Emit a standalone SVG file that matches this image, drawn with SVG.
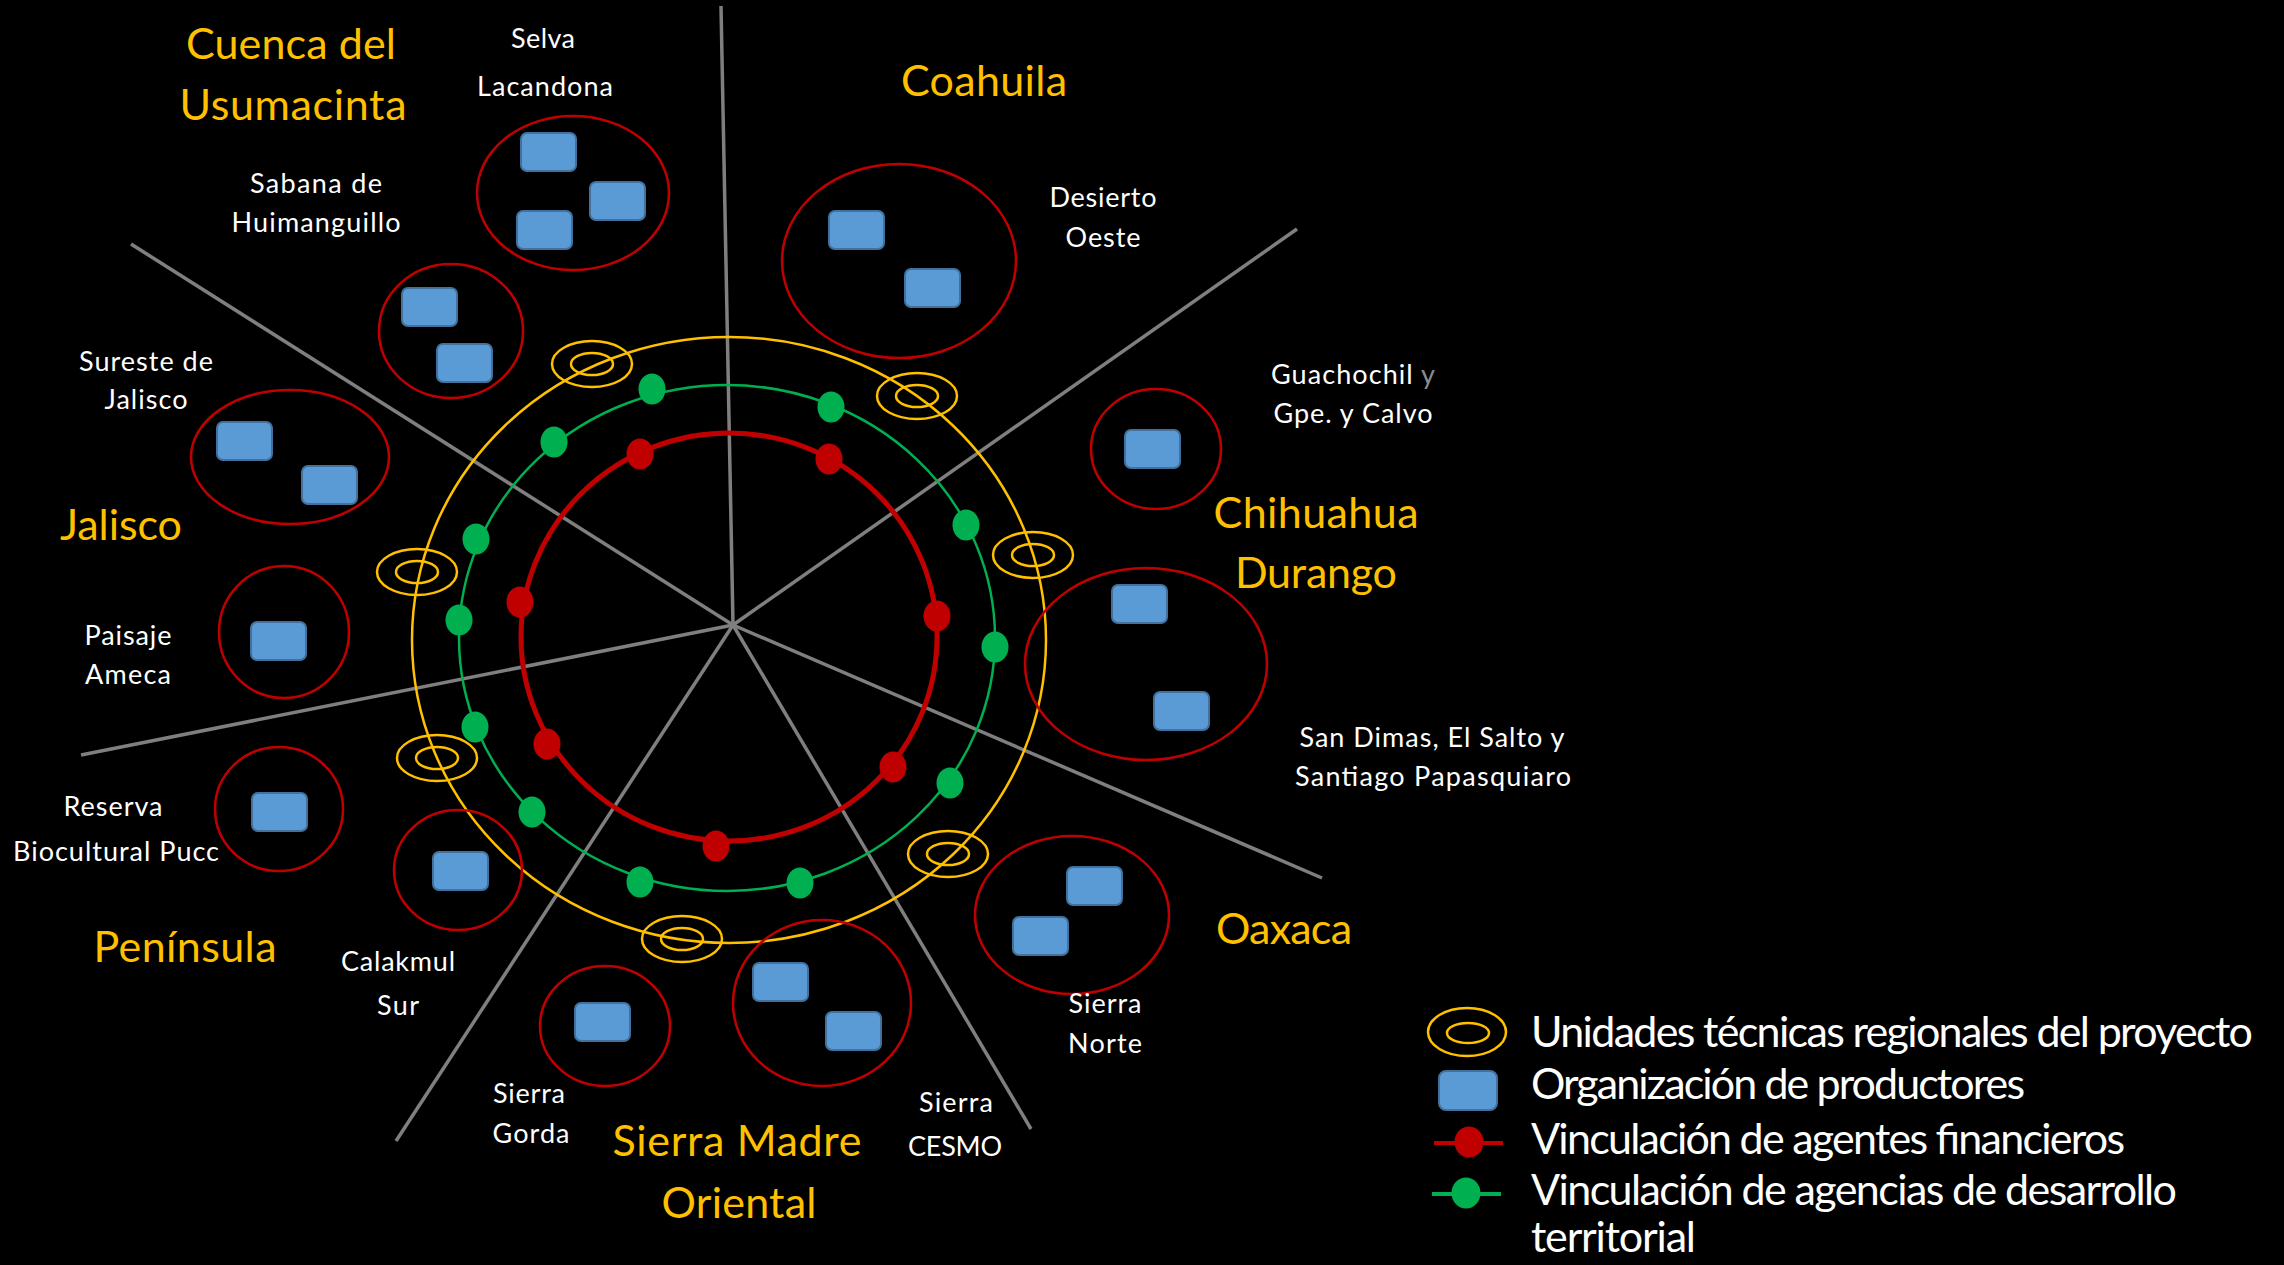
<svg xmlns="http://www.w3.org/2000/svg" width="2284" height="1265" viewBox="0 0 2284 1265">
<style>
.bg{fill:#000}
.spoke{stroke:#7F7F7F;stroke-width:3.5;fill:none;stroke-linecap:butt}
.ringY{fill:none;stroke:#FFC000;stroke-width:2.5}
.ringG{fill:none;stroke:#00B050;stroke-width:2.5}
.ringR{fill:none;stroke:#C00000;stroke-width:5}
.dotR{fill:#C00000}
.dotG{fill:#00B050}
.utr{fill:none;stroke:#FFC000;stroke-width:2.5}
.clus{fill:none;stroke:#C00000;stroke-width:2.5}
.org{fill:#5B9BD5;stroke:#41719C;stroke-width:2}
.region{font-family:Lato,"Open Sans",sans-serif;font-size:43px;fill:#FFC000;text-anchor:middle}
.site{font-family:Lato,"Open Sans",sans-serif;font-size:27px;fill:#FFFFFF;text-anchor:middle}
.leg{font-family:Lato,"Open Sans",sans-serif;font-size:43px;fill:#FFFFFF}
.grey{fill:#8C8C8C}
</style>
<defs>
<g id="target"><ellipse class="utr" cx="0" cy="0" rx="40" ry="23"/><ellipse class="utr" cx="0" cy="0" rx="21" ry="11"/></g>
<rect id="sq" class="org" x="0" y="0" width="55" height="38" rx="6"/>
<ellipse id="rdot" class="dotR" cx="0" cy="0" rx="13.5" ry="15.5"/>
<ellipse id="gdot" class="dotG" cx="0" cy="0" rx="13.5" ry="15.5"/>
</defs>
<rect class="bg" x="0" y="0" width="2284" height="1265"/>

<g id="connectors">
<line class="spoke" x1="733" y1="625" x2="721" y2="6"/>
<line class="spoke" x1="733" y1="625" x2="1297" y2="229"/>
<line class="spoke" x1="733" y1="625" x2="1322" y2="878"/>
<line class="spoke" x1="733" y1="625" x2="1031" y2="1129"/>
<line class="spoke" x1="733" y1="625" x2="396" y2="1141"/>
<line class="spoke" x1="733" y1="625" x2="81" y2="755"/>
<line class="spoke" x1="733" y1="625" x2="131" y2="244"/>
</g>

<g id="ring-financial">
<ellipse class="ringR" cx="729" cy="637" rx="208" ry="204"/>
<use href="#rdot" x="640" y="454"/>
<use href="#rdot" x="829" y="459"/>
<use href="#rdot" x="520" y="602"/>
<use href="#rdot" x="937" y="616"/>
<use href="#rdot" x="547" y="744"/>
<use href="#rdot" x="893" y="767"/>
<use href="#rdot" x="716" y="846"/>
</g>

<g id="ring-development">
<ellipse class="ringG" cx="727" cy="638" rx="268" ry="253"/>
<use href="#gdot" x="652" y="389"/>
<use href="#gdot" x="831" y="407"/>
<use href="#gdot" x="554" y="442"/>
<use href="#gdot" x="966" y="525"/>
<use href="#gdot" x="476" y="539"/>
<use href="#gdot" x="459" y="620"/>
<use href="#gdot" x="995" y="647"/>
<use href="#gdot" x="475" y="727"/>
<use href="#gdot" x="950" y="783"/>
<use href="#gdot" x="532" y="812"/>
<use href="#gdot" x="640" y="882"/>
<use href="#gdot" x="800" y="883"/>
</g>

<g id="ring-units">
<ellipse class="ringY" cx="729" cy="640" rx="317" ry="303"/>
<use href="#target" x="592" y="364"/>
<use href="#target" x="917" y="396"/>
<use href="#target" x="1033" y="555"/>
<use href="#target" x="417" y="572"/>
<use href="#target" x="437" y="758"/>
<use href="#target" x="948" y="854"/>
<use href="#target" x="682" y="939"/>
</g>

<g id="selva-lacandona">
<ellipse class="clus" cx="573" cy="193" rx="96" ry="77"/>
<use href="#sq" x="521" y="133"/>
<use href="#sq" x="590" y="182"/>
<use href="#sq" x="517" y="211"/>
<text class="site" x="543" y="48" textLength="64">Selva</text>
<text class="site" x="545" y="96" textLength="136">Lacandona</text>
</g>

<g id="sabana-huimanguillo">
<ellipse class="clus" cx="451" cy="331" rx="72" ry="67"/>
<use href="#sq" x="402" y="288"/>
<use href="#sq" x="437" y="344"/>
<text class="site" x="316" y="193" textLength="132">Sabana de</text>
<text class="site" x="316" y="232" textLength="169">Huimanguillo</text>
</g>

<g id="sureste-jalisco">
<ellipse class="clus" cx="290" cy="457" rx="99" ry="67"/>
<use href="#sq" x="217" y="422"/>
<use href="#sq" x="302" y="466"/>
<text class="site" x="146" y="371" textLength="134">Sureste de</text>
<text class="site" x="146" y="409" textLength="83">Jalisco</text>
</g>

<g id="paisaje-ameca">
<ellipse class="clus" cx="284" cy="632" rx="65" ry="66"/>
<use href="#sq" x="251" y="622"/>
<text class="site" x="128" y="645" textLength="87">Paisaje</text>
<text class="site" x="128" y="684" textLength="86">Ameca</text>
</g>

<g id="reserva-pucc">
<ellipse class="clus" cx="279" cy="809" rx="64" ry="62"/>
<use href="#sq" x="252" y="793"/>
<text class="site" x="113" y="816" textLength="99">Reserva</text>
<text class="site" x="116" y="861" textLength="206">Biocultural Pucc</text>
</g>

<g id="calakmul-sur">
<ellipse class="clus" cx="458" cy="870" rx="64" ry="60"/>
<use href="#sq" x="433" y="852"/>
<text class="site" x="398" y="971" textLength="114">Calakmul</text>
<text class="site" x="398" y="1015" textLength="42">Sur</text>
</g>

<g id="sierra-gorda">
<ellipse class="clus" cx="605" cy="1026" rx="65" ry="60"/>
<use href="#sq" x="575" y="1003"/>
<text class="site" x="529" y="1103" textLength="72">Sierra</text>
<text class="site" x="531" y="1143" textLength="77">Gorda</text>
</g>

<g id="sierra-cesmo">
<ellipse class="clus" cx="822" cy="1003" rx="89" ry="83"/>
<use href="#sq" x="753" y="963"/>
<use href="#sq" x="826" y="1012"/>
<text class="site" x="956" y="1112" textLength="74">Sierra</text>
<text class="site" x="955" y="1156" textLength="94">CESMO</text>
</g>

<g id="sierra-norte">
<ellipse class="clus" cx="1072" cy="915" rx="97" ry="79"/>
<use href="#sq" x="1067" y="867"/>
<use href="#sq" x="1013" y="917"/>
<text class="site" x="1105" y="1013" textLength="73">Sierra</text>
<text class="site" x="1105" y="1053" textLength="74">Norte</text>
</g>

<g id="san-dimas">
<ellipse class="clus" cx="1146" cy="664" rx="121" ry="96"/>
<use href="#sq" x="1112" y="585"/>
<use href="#sq" x="1154" y="692"/>
<text class="site" x="1432" y="747" textLength="265">San Dimas, El Salto y</text>
<text class="site" x="1433" y="786" textLength="276">Santiago Papasquiaro</text>
</g>

<g id="guachochil">
<ellipse class="clus" cx="1156" cy="449" rx="65" ry="60"/>
<use href="#sq" x="1125" y="430"/>
<text class="site" x="1353" y="384" textLength="164">Guachochil <tspan class="grey">y</tspan></text>
<text class="site" x="1353" y="423" textLength="159">Gpe. y Calvo</text>
</g>

<g id="desierto-oeste">
<ellipse class="clus" cx="899" cy="261" rx="117" ry="97"/>
<use href="#sq" x="829" y="211"/>
<use href="#sq" x="905" y="269"/>
<text class="site" x="1103" y="207" textLength="107">Desierto</text>
<text class="site" x="1103" y="247" textLength="75">Oeste</text>
</g>

<g id="regions">
<text class="region" x="291" y="59" textLength="210">Cuenca del</text>
<text class="region" x="293" y="120" textLength="227">Usumacinta</text>
<text class="region" x="984" y="96" textLength="166">Coahuila</text>
<text class="region" x="1316" y="528" textLength="205">Chihuahua</text>
<text class="region" x="1316" y="588" textLength="162">Durango</text>
<text class="region" x="121" y="540" textLength="122">Jalisco</text>
<text class="region" x="1284" y="944" textLength="136">Oaxaca</text>
<text class="region" x="185" y="962" textLength="183">Península</text>
<text class="region" x="737" y="1156" textLength="249">Sierra Madre</text>
<text class="region" x="739" y="1218" textLength="155">Oriental</text>
</g>

<g id="legend">
<g id="legend-units">
<ellipse class="utr" cx="1467" cy="1032" rx="39" ry="24"/>
<ellipse class="utr" cx="1468" cy="1033" rx="21" ry="10"/>
<text class="leg" x="1531" y="1047" textLength="722">Unidades técnicas regionales del proyecto</text>
</g>
<g id="legend-org">
<rect class="org" x="1439" y="1071" width="58" height="39" rx="7"/>
<text class="leg" x="1531" y="1099" textLength="494">Organización de productores</text>
</g>
<g id="legend-financial">
<line x1="1434" y1="1143" x2="1503" y2="1143" stroke="#C00000" stroke-width="4"/>
<ellipse class="dotR" cx="1469" cy="1142" rx="14.5" ry="15.5"/>
<text class="leg" x="1531" y="1154" textLength="594">Vinculación de agentes financieros</text>
</g>
<g id="legend-development">
<line x1="1432" y1="1194" x2="1501" y2="1194" stroke="#00B050" stroke-width="4"/>
<ellipse class="dotG" cx="1466" cy="1193" rx="14.5" ry="15.5"/>
<text class="leg" x="1531" y="1205" textLength="646">Vinculación de agencias de desarrollo</text>
<text class="leg" x="1531" y="1252" textLength="165">territorial</text>
</g>
</g>
</svg>
